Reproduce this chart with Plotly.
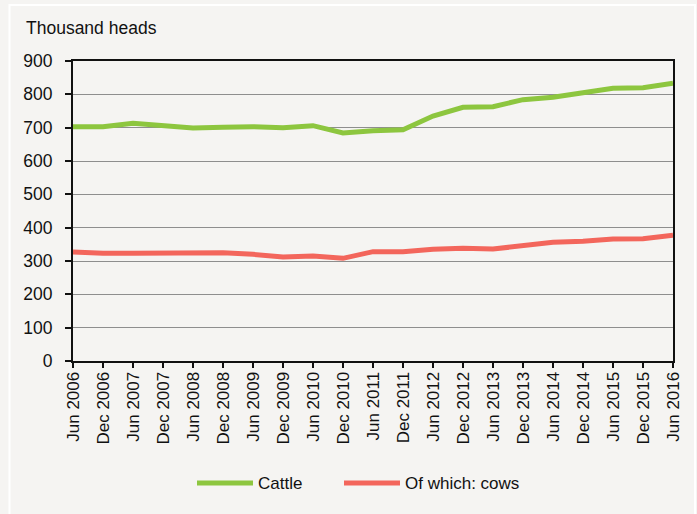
import plotly.graph_objects as go

periods = ["Jun 2006", "Dec 2006", "Jun 2007", "Dec 2007", "Jun 2008", "Dec 2008",
           "Jun 2009", "Dec 2009", "Jun 2010", "Dec 2010", "Jun 2011", "Dec 2011",
           "Jun 2012", "Dec 2012", "Jun 2013", "Dec 2013", "Jun 2014", "Dec 2014",
           "Jun 2015", "Dec 2015", "Jun 2016"]
cattle = [703, 703, 713, 707, 699, 701, 703, 700, 706, 684, 691, 694,
          735, 761, 763, 784, 791, 805, 818, 820, 833]
cows = [327, 323, 323, 323, 325, 325, 320, 312, 315, 308, 328, 328,
        335, 338, 336, 346, 356, 359, 366, 367, 377]
y_ticks = list(range(0, 1000, 100))

GREEN = "#8DC63F"
RED = "#F3665C"
BG = "#F5F4F2"
FONT = "Liberation Sans, Arial, sans-serif"

fig = go.Figure()
fig.add_trace(go.Scatter(x=periods, y=cattle, mode="lines", name="Cattle",
                         line=dict(color=GREEN, width=5), showlegend=False))
fig.add_trace(go.Scatter(x=periods, y=cows, mode="lines", name="Of which: cows",
                         line=dict(color=RED, width=5), showlegend=False))

L, R, T, B = 73, 24, 61, 153
W, H = 697, 514
pw, ph = W - L - R, H - T - B

def px(x):
    return (x - L) / pw

def py(y):
    return (H - B - y) / ph

fig.update_layout(
    width=W, height=H,
    margin=dict(l=L, r=R, t=T, b=B, pad=0),
    paper_bgcolor=BG, plot_bgcolor=BG,
    font=dict(family=FONT, size=17, color="#111111"),
    showlegend=False,
    xaxis=dict(type="category", range=[0, len(periods) - 1],
               tickmode="array", tickvals=periods, ticktext=periods,
               tickangle=-90, showgrid=False, zeroline=False,
               showline=True, linecolor="#111111", linewidth=2, mirror=True,
               ticks="outside", ticklen=5, tickwidth=2, tickcolor="#111111",
               ticklabelstandoff=-3,
               tickfont=dict(size=17, family=FONT, color="#111111")),
    yaxis=dict(range=[0, 900], tickmode="array", tickvals=y_ticks,
               showgrid=True, gridcolor="#8E8E8E", gridwidth=1, zeroline=False,
               showline=True, linecolor="#111111", linewidth=2, mirror=True,
               ticks="outside", ticklen=6, tickwidth=2, tickcolor="#111111",
               ticklabelstandoff=9,
               tickfont=dict(size=17.5, family=FONT, color="#111111")),
)

# frame outline
fig.add_shape(type="rect", xref="paper", yref="paper",
              x0=px(9.5), x1=px(695), y0=py(530), y1=py(5),
              line=dict(color="#FFFFFF", width=2), fillcolor="rgba(0,0,0,0)", layer="below")

# title
fig.add_annotation(text="Thousand heads", xref="paper", yref="paper",
                   x=px(24), y=py(28), xanchor="left", yanchor="middle",
                   showarrow=False, font=dict(size=17.5, family=FONT, color="#111111"))

# manual legend
legend_y = py(483)
for (x0, x1, tx, color, label) in [(197, 253, 256, GREEN, "Cattle"),
                                    (344, 400, 403, RED, "Of which: cows")]:
    fig.add_shape(type="line", xref="paper", yref="paper",
                  x0=px(x0), x1=px(x1), y0=legend_y, y1=legend_y,
                  line=dict(color=color, width=5))
    fig.add_annotation(text=label, xref="paper", yref="paper",
                       x=px(tx), y=legend_y, xanchor="left", yanchor="middle",
                       showarrow=False, font=dict(size=17, family=FONT, color="#111111"))

fig.write_html("out.html")
